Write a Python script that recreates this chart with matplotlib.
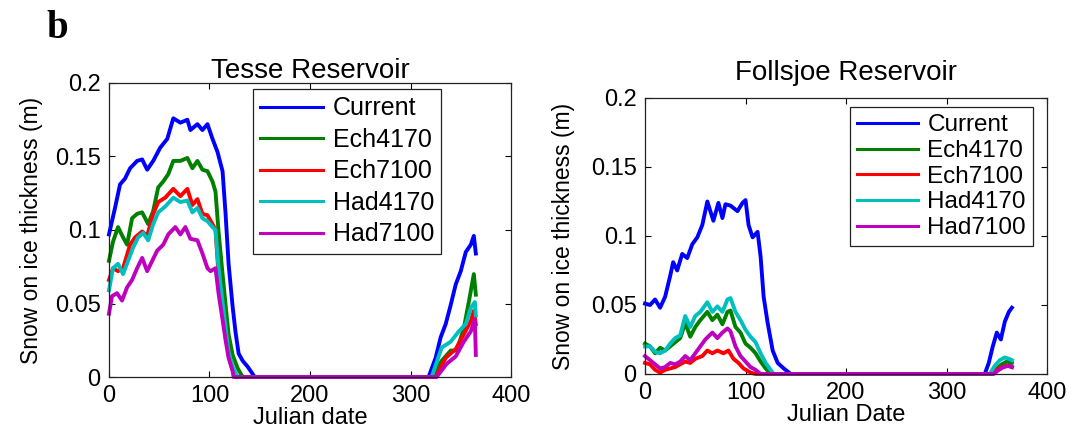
import matplotlib.pyplot as plt

plt.rcParams['font.family'] = ['Liberation Sans', 'DejaVu Sans']

SCENARIOS = ['Current', 'Ech4170', 'Ech7100', 'Had4170', 'Had7100']
COLORS = ['#0000ff', '#008000', '#ff0000', '#00bfbf', '#bf00bf']

# Tesse Reservoir, snow on ice thickness (m)
tesse_cur_day = [0, 6, 11, 16, 21, 28, 33, 38, 44, 51, 58, 64, 71, 78, 81, 88, 93, 98, 103, 108,
                 113, 116, 119, 123, 126, 129, 133, 138, 145, 318, 325, 330, 335, 340, 345, 350, 355, 360, 363, 365]
tesse_cur = [0.097, 0.115, 0.131, 0.135, 0.142, 0.147, 0.148, 0.141, 0.147, 0.156,
             0.162, 0.176, 0.173, 0.175, 0.168, 0.172, 0.168, 0.172, 0.162, 0.153,
             0.140, 0.111, 0.077, 0.048, 0.030, 0.016, 0.011, 0.007, 0,
             0, 0.013, 0.027, 0.036, 0.049, 0.063, 0.072, 0.085, 0.090, 0.096, 0.084]

tesse_e41_day = [0, 4, 9, 14, 18, 23, 28, 33, 39, 44, 49, 54, 59, 64, 71, 78, 83, 88, 93, 98,
                 103, 106, 109, 113, 116, 119, 123, 128, 133, 321, 331, 340, 346, 353, 358, 363, 365]
tesse_e41 = [0.079, 0.092, 0.102, 0.095, 0.090, 0.108, 0.111, 0.112, 0.104, 0.113,
             0.129, 0.133, 0.138, 0.147, 0.147, 0.149, 0.142, 0.147, 0.141, 0.140,
             0.133, 0.126, 0.099, 0.070, 0.049, 0.029, 0.015, 0.006, 0,
             0, 0.011, 0.018, 0.018, 0.033, 0.051, 0.070, 0.056]

tesse_e71_day = [0, 4, 9, 14, 21, 26, 33, 38, 44, 49, 56, 64, 71, 78, 83, 88, 93, 98, 103, 106,
                 109, 113, 116, 119, 123, 126, 325, 335, 345, 353, 360, 363, 365]
tesse_e71 = [0.066, 0.074, 0.072, 0.074, 0.090, 0.095, 0.099, 0.096, 0.111, 0.119,
             0.122, 0.128, 0.123, 0.128, 0.117, 0.121, 0.111, 0.110, 0.104, 0.100,
             0.070, 0.049, 0.031, 0.015, 0.005, 0,
             0, 0.013, 0.019, 0.029, 0.038, 0.045, 0.036]

tesse_h41_day = [0, 4, 9, 14, 19, 24, 29, 34, 39, 44, 49, 56, 64, 71, 78, 83, 88, 93, 98, 103,
                 106, 109, 113, 116, 119, 123, 128, 321, 331, 340, 348, 355, 360, 364, 365]
tesse_h41 = [0.059, 0.074, 0.077, 0.070, 0.079, 0.088, 0.095, 0.098, 0.093, 0.104,
             0.112, 0.116, 0.122, 0.119, 0.120, 0.112, 0.115, 0.108, 0.106, 0.102,
             0.100, 0.074, 0.051, 0.033, 0.017, 0.007, 0,
             0, 0.020, 0.024, 0.031, 0.036, 0.047, 0.051, 0.042]

tesse_h71_day = [0, 3, 8, 13, 18, 23, 28, 33, 38, 43, 48, 54, 59, 66, 71, 76, 81, 88, 93, 98,
                 101, 106, 109, 113, 116, 119, 123, 124, 326, 336, 345, 353, 360, 364, 365]
tesse_h71 = [0.043, 0.055, 0.057, 0.052, 0.061, 0.066, 0.074, 0.081, 0.072, 0.079,
             0.086, 0.090, 0.097, 0.102, 0.097, 0.102, 0.094, 0.093, 0.084, 0.074,
             0.072, 0.074, 0.057, 0.039, 0.025, 0.013, 0.004, 0,
             0, 0.009, 0.014, 0.024, 0.031, 0.039, 0.015]

# Follsjoe Reservoir
folls_cur_day = [0, 5, 10, 15, 20, 25, 28, 32, 37, 42, 47, 52, 57, 62, 65, 68, 73, 77, 80, 85,
                 92, 97, 100, 103, 107, 112, 115, 118, 122, 127, 132, 138, 145,
                 338, 342, 346, 350, 354, 358, 362, 365]
folls_cur = [0.051, 0.050, 0.054, 0.048, 0.056, 0.071, 0.081, 0.075, 0.087, 0.084,
             0.094, 0.099, 0.108, 0.125, 0.118, 0.111, 0.124, 0.113, 0.123, 0.122,
             0.118, 0.124, 0.126, 0.108, 0.099, 0.103, 0.085, 0.056, 0.037, 0.017,
             0.008, 0.004, 0,
             0, 0.008, 0.020, 0.030, 0.025, 0.038, 0.045, 0.048]

folls_e41_day = [0, 5, 10, 15, 20, 25, 30, 35, 40, 45, 50, 55, 62, 67, 72, 77, 82, 85, 90, 95,
                 100, 105, 110, 115, 120, 125, 345, 350, 355, 360, 365]
folls_e41 = [0.022, 0.020, 0.015, 0.019, 0.017, 0.020, 0.023, 0.026, 0.037, 0.027,
             0.034, 0.039, 0.045, 0.039, 0.043, 0.036, 0.045, 0.046, 0.034, 0.030,
             0.022, 0.019, 0.015, 0.009, 0.004, 0,
             0, 0.004, 0.007, 0.009, 0.008]

folls_e71_day = [0, 5, 10, 15, 20, 25, 30, 35, 40, 45, 50, 57, 62, 67, 72, 78, 83, 88, 93, 98,
                 105, 110, 345, 350, 355, 360, 365]
folls_e71 = [0.008, 0.007, 0.003, 0.001, 0.003, 0.004, 0.005, 0.007, 0.009, 0.008,
             0.011, 0.013, 0.017, 0.015, 0.017, 0.015, 0.017, 0.011, 0.008, 0.004,
             0.001, 0,
             0, 0.003, 0.005, 0.006, 0.005]

folls_h41_day = [0, 5, 10, 15, 20, 25, 30, 35, 40, 45, 50, 55, 62, 67, 72, 77, 82, 85, 90, 95,
                 100, 105, 110, 115, 120, 125, 128, 343, 348, 353, 358, 362, 365]
folls_h41 = [0.020, 0.020, 0.016, 0.015, 0.017, 0.022, 0.026, 0.028, 0.042, 0.034,
             0.042, 0.045, 0.052, 0.045, 0.049, 0.045, 0.054, 0.055, 0.045, 0.039,
             0.032, 0.027, 0.023, 0.015, 0.008, 0.003, 0,
             0, 0.006, 0.010, 0.012, 0.011, 0.010]

folls_h71_day = [0, 5, 10, 15, 20, 25, 30, 35, 40, 45, 50, 55, 60, 67, 72, 77, 82, 85, 90, 95,
                 100, 105, 110, 115, 347, 352, 357, 362, 365]
folls_h71 = [0.013, 0.010, 0.007, 0.004, 0.005, 0.008, 0.007, 0.009, 0.013, 0.010,
             0.015, 0.020, 0.025, 0.030, 0.026, 0.030, 0.033, 0.031, 0.020, 0.013,
             0.009, 0.005, 0.003, 0,
             0, 0.003, 0.005, 0.006, 0.005]

X_TICKS = [0, 100, 200, 300, 400]
Y_TICKS = [0, 0.05, 0.1, 0.15, 0.2]
Y_TICKLABELS = ['0', '0.05', '0.1', '0.15', '0.2']

tesse = [(tesse_cur_day, tesse_cur), (tesse_e41_day, tesse_e41), (tesse_e71_day, tesse_e71),
         (tesse_h41_day, tesse_h41), (tesse_h71_day, tesse_h71)]
folls = [(folls_cur_day, folls_cur), (folls_e41_day, folls_e41), (folls_e71_day, folls_e71),
         (folls_h41_day, folls_h41), (folls_h71_day, folls_h71)]


def draw_panel(ax, series, title, xlabel, title_pad, ylab_x, leg_anchor, leg_spacing, leg_size):
    for (d, v), name, c in zip(series, SCENARIOS, COLORS):
        ax.plot(d, v, color=c, lw=2.8, label=name, clip_on=False, solid_joinstyle='round')
    ax.set_xlim(0, 400)
    ax.set_ylim(0, 0.2)
    ax.set_xticks(X_TICKS)
    ax.set_yticks(Y_TICKS)
    ax.set_yticklabels(Y_TICKLABELS)
    ax.tick_params(direction='in', top=True, right=True, length=4, width=0.8,
                   labelsize=17, pad=6)
    for sp in ax.spines.values():
        sp.set_linewidth(0.9)
        sp.set_color('#222222')
    ax.set_title(title, fontsize=20, pad=title_pad)
    ax.set_xlabel(xlabel, fontsize=17, labelpad=0)
    ax.set_ylabel('Snow on ice thickness (m)', fontsize=16.5)
    ax.yaxis.set_label_coords(ylab_x, 0.5)
    leg = ax.legend(loc='upper center', bbox_to_anchor=leg_anchor, fontsize=leg_size,
                    fancybox=False, edgecolor='#222222', framealpha=1,
                    handlelength=2.5, handletextpad=0.4, labelspacing=leg_spacing,
                    borderpad=0.3, borderaxespad=0)
    leg.get_frame().set_linewidth(0.9)
    for line in leg.get_lines():
        line.set_linewidth(2.2)


fig = plt.figure(figsize=(10.79, 4.32), dpi=100)
ax1 = fig.add_axes([0.1010, 0.1273, 0.3726, 0.6806])
ax2 = fig.add_axes([0.5978, 0.1343, 0.3726, 0.6389])

draw_panel(ax1, tesse, 'Tesse Reservoir', 'Julian date', 3.6, -0.165, (0.592, 0.980), 0.3, 18)
draw_panel(ax2, folls, 'Follsjoe Reservoir', 'Julian Date', 13, -0.175, (0.7376, 0.967), 0.15, 17.5)

fig.text(46 / 1079, 1 - 38 / 432, 'b', fontsize=28, fontweight='bold',
         family=['Liberation Serif', 'DejaVu Serif'], va='baseline', ha='left')

fig.savefig('out.png', dpi=100)
